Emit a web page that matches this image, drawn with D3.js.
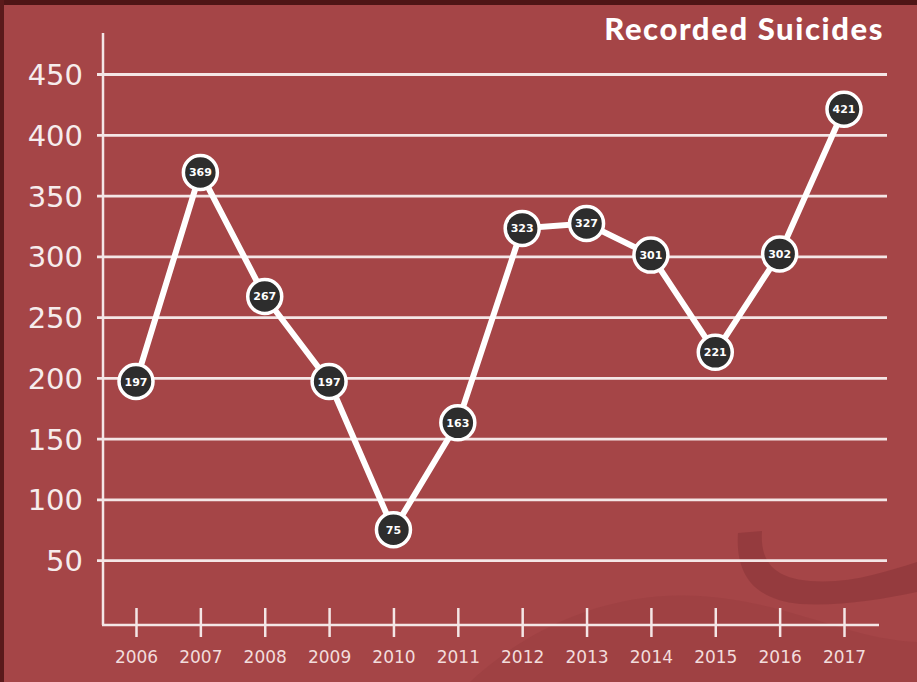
<!DOCTYPE html>
<html><head><meta charset="utf-8">
<script src="https://cdn.jsdelivr.net/npm/d3@7"></script>
<style>html,body{margin:0;padding:0;background:#a54547;overflow:hidden}</style>
</head><body>
<svg id="c" width="917" height="682"></svg>
<script>
const years = ["2006","2007","2008","2009","2010","2011","2012","2013","2014","2015","2016","2017"];
const suicides = [197,369,267,197,75,163,323,327,301,221,302,421];
const yTicks = [50,100,150,200,250,300,350,400,450];
const title = "Recorded Suicides";

const W = 917, H = 682;
const svg = d3.select("#c");

// background
svg.append("rect").attr("width",W).attr("height",H).attr("fill","#a54547");
// decorative swirl
svg.append("path")
  .attr("d","M470,682 C520,635 600,590 700,596 C790,602 850,640 917,642 L917,682 Z")
  .attr("fill","#9a3d40").attr("opacity",0.5);
svg.append("path")
  .attr("d","M738,533 L762,531 C760,560 772,578 810,581 C850,584 885,572 917,562 L917,592 C880,600 840,606 800,604 C755,600 735,575 738,533 Z")
  .attr("fill","#8e383b").attr("opacity",0.7);
// borders
svg.append("rect").attr("x",0).attr("y",0).attr("width",W).attr("height",5).attr("fill","#4e1516");
svg.append("rect").attr("x",0).attr("y",0).attr("width",4).attr("height",H).attr("fill","#5a1a1b");

const x = d3.scalePoint().domain(years).range([136,844]);
const y = d3.scaleLinear().domain([0,450]).range([621,74]);

// gridlines + y labels
const yAxis = d3.axisLeft(y).tickValues(yTicks).tickSize(-(887-97)).tickPadding(14);
const gy = svg.append("g").attr("transform","translate(97,0)").call(yAxis);
gy.select(".domain").remove();
gy.selectAll(".tick line").attr("stroke","#f4e6e6").attr("stroke-width",2.8);
gy.selectAll(".tick text").attr("fill","#f6ecec").attr("font-family","DejaVu Sans")
  .attr("font-size",29).attr("dy","0.36em");

// axes lines
svg.append("line").attr("x1",103).attr("x2",103).attr("y1",33).attr("y2",625)
  .attr("stroke","#f4e6e6").attr("stroke-width",2.5);
svg.append("line").attr("x1",102).attr("x2",879).attr("y1",625).attr("y2",625)
  .attr("stroke","#f4e6e6").attr("stroke-width",2.5);

// x ticks
const xAxis = d3.axisBottom(x).tickSizeInner(0).tickSizeOuter(0).tickPadding(0);
const gx = svg.append("g").attr("transform","translate(0,625)").call(xAxis);
gx.select(".domain").remove();
gx.selectAll(".tick line").attr("y1",-17).attr("y2",12).attr("stroke","#f4e6e6").attr("stroke-width",2.5);
gx.selectAll(".tick text").attr("fill","#f2dcdc").attr("font-family","DejaVu Sans")
  .attr("font-size",17).attr("dy",0).attr("y",38);

// line
const data = years.map((yr,i)=>({yr, v:suicides[i]}));
svg.append("path").datum(data)
  .attr("d", d3.line().x(d=>x(d.yr)).y(d=>y(d.v)))
  .attr("fill","none").attr("stroke","#ffffff").attr("stroke-width",6).attr("stroke-linejoin","miter");

// points
const pts = svg.append("g").selectAll("g").data(data).join("g")
  .attr("transform", d=>`translate(${x(d.yr)},${y(d.v)})`);
pts.append("circle").attr("r",17).attr("fill","#2d2d2d").attr("stroke","#ffffff").attr("stroke-width",3.5);
pts.append("text").text(d=>d.v).attr("text-anchor","middle").attr("dy","0.36em")
  .attr("fill","#ffffff").attr("font-family","DejaVu Sans").attr("font-weight","bold").attr("font-size",11);

// title
svg.append("text").text(title).attr("x",884).attr("y",40).attr("text-anchor","end")
  .attr("fill","#ffffff").attr("font-family","Lato").attr("font-weight",900).attr("font-size",31)
  .attr("letter-spacing",1.6);
</script>
</body></html>
